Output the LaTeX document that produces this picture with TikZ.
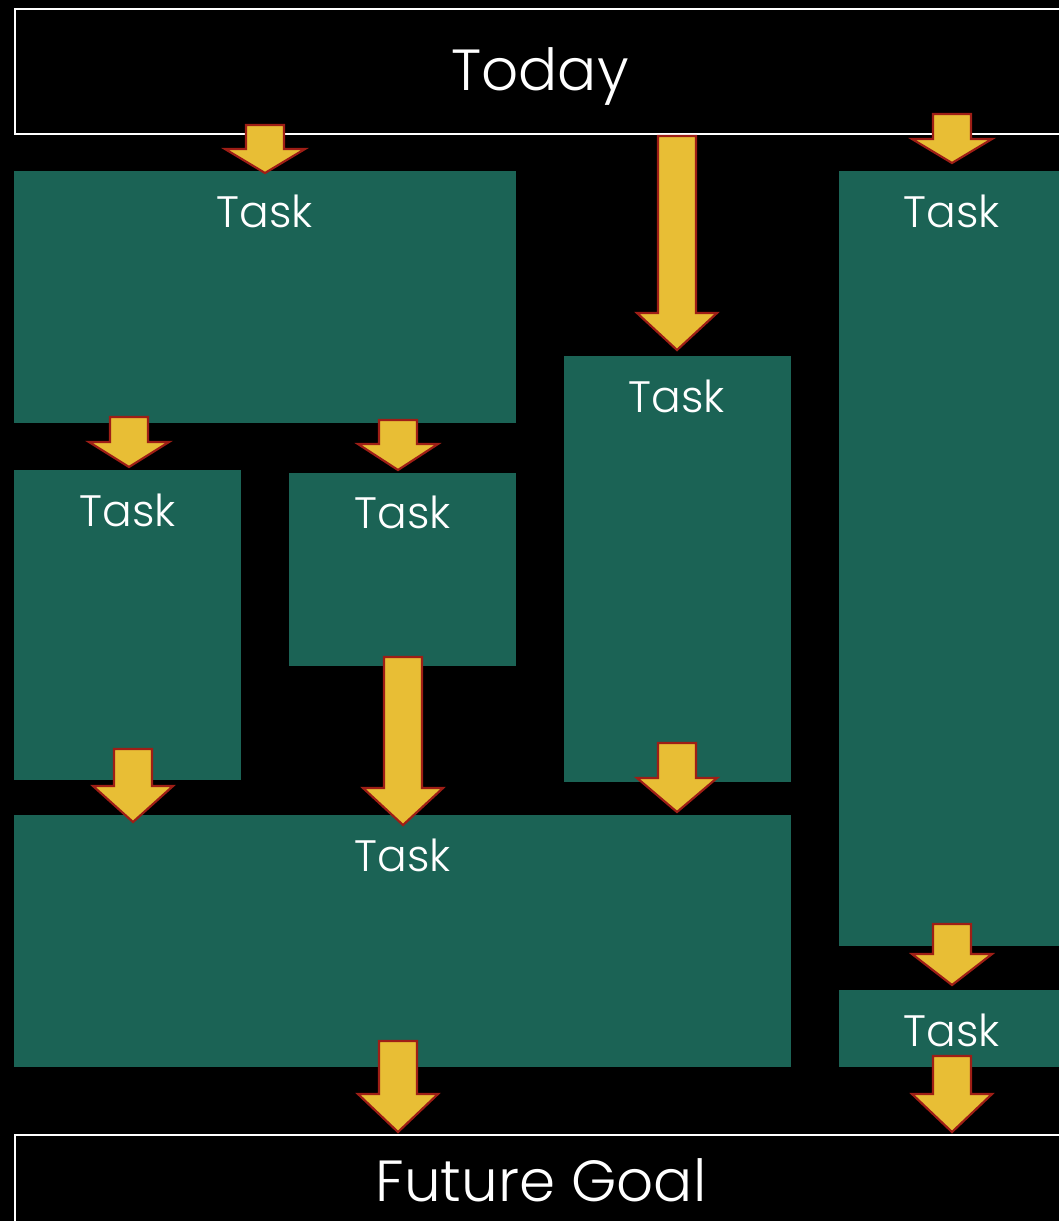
\documentclass[tikz,border=0pt]{standalone}
\usepackage{fontspec}
\setmainfont{Poppins}[UprightFont={* Light}]
\definecolor{taskgreen}{RGB}{27,99,85}
\definecolor{arrowgold}{RGB}{232,190,53}
\definecolor{arrowrim}{RGB}{158,30,22}

\tikzset{
  taskbox/.style={fill=taskgreen, draw=none, inner sep=0pt, anchor=north west},
  endbox/.style={draw=white, line width=1.8pt, fill=black, inner sep=0pt, anchor=north west},
  tasklabel/.style={text=white, inner sep=0pt, anchor=base, font=\fontsize{44}{50}\selectfont},
  endlabel/.style={text=white, inner sep=0pt, anchor=base, font=\fontsize{58}{64}\selectfont},
  blockarrow/.style={fill=arrowgold, draw=arrowrim, line width=2.2pt, line join=miter},
}

% block arrow pointing down: centre x, top of shaft, start of head, tip
\newcommand\blockarr[4]{%
  \draw[blockarrow] ({#1-19},#2) -- ({#1+19},#2) -- ({#1+19},#3) -- ({#1+40},#3)
    -- (#1,#4) -- ({#1-40},#3) -- ({#1-19},#3) -- cycle;}

\begin{document}
\begin{tikzpicture}[x=1pt, y=-1pt]
  \fill[black] (0,0) rectangle (1059,1221);
  \clip (0,0) rectangle (1059,1221);

  % start and end bars
  \node[endbox, minimum width=1060pt, minimum height=125pt] (today) at (14,8) {};
  \node[endbox, minimum width=1060pt, minimum height=120pt] (goal) at (14,1134) {};
  \node[endlabel] (todaytxt) at (540,90) {Today};
  \node[endlabel] (goaltxt) at (541,1201) {Future Goal};

  % task blocks
  \node[taskbox, minimum width=502pt, minimum height=252pt] (A) at (14,171) {};
  \node[taskbox, minimum width=227pt, minimum height=426pt] (B) at (564,356) {};
  \node[taskbox, minimum width=240pt, minimum height=775pt] (C) at (839,171) {};
  \node[taskbox, minimum width=227pt, minimum height=310pt] (D) at (14,470) {};
  \node[taskbox, minimum width=227pt, minimum height=193pt] (E) at (289,473) {};
  \node[taskbox, minimum width=777pt, minimum height=252pt] (F) at (14,815) {};
  \node[taskbox, minimum width=240pt, minimum height=77pt] (G) at (839,990) {};

  \node[tasklabel] (At) at (265,227) {Task};
  \node[tasklabel] (Bt) at (677,412) {Task};
  \node[tasklabel] (Ct) at (952,227) {Task};
  \node[tasklabel] (Dt) at (128,526) {Task};
  \node[tasklabel] (Et) at (403,528) {Task};
  \node[tasklabel] (Ft) at (403,871) {Task};
  \node[tasklabel] (Gt) at (952,1046) {Task};

  % arrows between stages
  \blockarr{265}{125}{149}{173}   % today -> A
  \blockarr{677}{136}{313}{350}   % today -> B
  \blockarr{952}{114}{139}{163}   % today -> C
  \blockarr{129}{417}{442}{467}   % A -> D
  \blockarr{398}{420}{444}{470}   % A -> E
  \blockarr{403}{657}{788}{825}   % E -> F
  \blockarr{133}{749}{786}{822}   % D -> F
  \blockarr{677}{743}{778}{812}   % B -> F
  \blockarr{952}{924}{954}{985}   % C -> G
  \blockarr{952}{1056}{1094}{1132}% G -> goal
  \blockarr{398}{1041}{1094}{1132}% F -> goal
\end{tikzpicture}
\end{document}
